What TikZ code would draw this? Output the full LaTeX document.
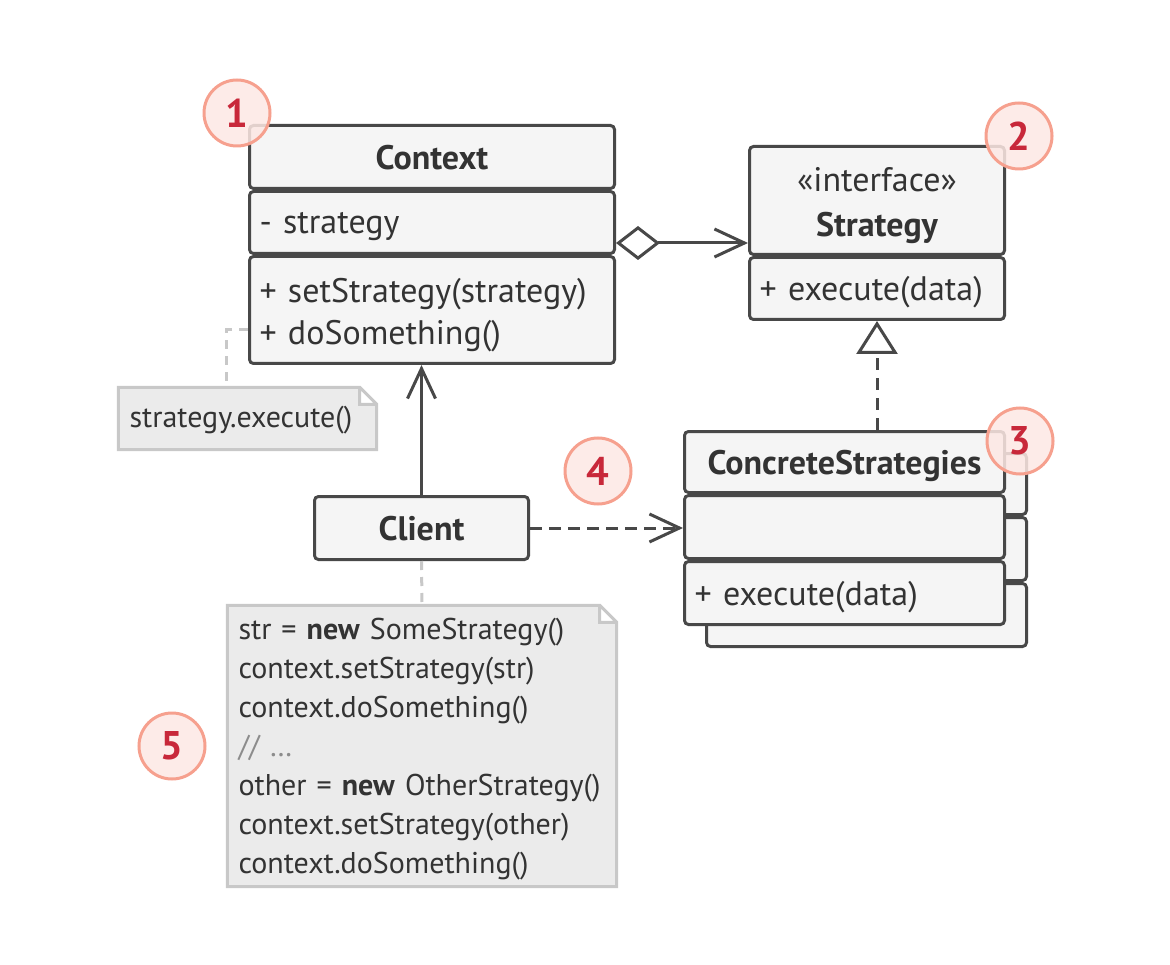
\documentclass[tikz,border=0pt]{standalone}
\usepackage{fontspec}
\setmainfont{PT Sans}
\usepackage{tikz}
\usetikzlibrary{arrows.meta, positioning, calc, backgrounds}
\definecolor{ink}{RGB}{72,72,72}
\definecolor{txt}{RGB}{51,51,51}
\definecolor{boxbg}{RGB}{245,245,245}
\definecolor{notebg}{RGB}{235,235,235}
\definecolor{noteln}{RGB}{200,200,200}
\definecolor{badgebg}{RGB}{253,232,228}
\definecolor{badgeln}{RGB}{246,160,142}
\definecolor{badgetx}{RGB}{200,40,58}
\tikzset{
  cmp/.style   ={rectangle, rounded corners=4pt, draw=ink, fill=boxbg, line width=3pt,
                 text=txt, font=\fontsize{34}{42}\selectfont, inner xsep=10pt, inner ysep=0pt},
  hdr/.style   ={cmp, align=center, text depth=-3pt, font=\fontsize{34}{42}\selectfont\bfseries},
  body/.style  ={cmp, align=left, text depth=-3pt},
  notebox/.style={inner xsep=11pt, inner ysep=0pt, align=left, text=txt,
                 font=\fontsize{30}{39}\selectfont},
  notepath/.style={fill=notebg, draw=noteln, line width=3pt, line join=miter},
  badge/.style ={circle, minimum size=66pt, inner sep=0pt, line width=3pt, draw=badgeln,
                 fill=badgebg, fill opacity=0.85, text opacity=1, text=badgetx,
                 font=\fontsize{40}{40}\selectfont\bfseries},
  tie/.style   ={draw=noteln, line width=3pt, dash pattern=on 9pt off 7pt},
  aggr/.style  ={draw=ink, line width=3pt,
                 {Diamond[open, length=44pt, width=34pt]}-{Straight Barb[length=30pt, width=28pt]}},
  usearr/.style={draw=ink, line width=3pt, -{Straight Barb[length=30pt, width=28pt]}},
  depn/.style  ={usearr, dash pattern=on 12pt off 7pt},
  realz/.style ={draw=ink, line width=3pt, dash pattern=on 12pt off 8pt,
                 -{Triangle[open, length=33pt, width=41pt]}},
}

\begin{document}
\begin{tikzpicture}[x=1pt, y=-1pt]
\useasboundingbox (0,0) rectangle (1170,965);
% Context
\node[hdr, text width=345pt, minimum height=63pt] (ctxh) at (432,157) {Context};
\node[body, text width=345pt, minimum height=62pt, below=0pt of ctxh] (ctxa) {- strategy};
\node[body, text width=345pt, minimum height=107pt, text depth=39pt, below=0pt of ctxa] (ctxm) {+ setStrategy(strategy)\\+ doSomething()};
% Strategy
\node[hdr, text width=235pt, minimum height=108pt, text depth=43pt] (strh) at (877,200.5) {{\mdseries «interface»}\\[3pt]Strategy};
\node[body, text width=235pt, minimum height=62pt, below=0pt of strh] (strm) {+ execute(data)};
% ConcreteStrategies (copy behind, then front)
\node[cmp, minimum width=320pt, minimum height=61pt] (csbh) at (866.5,484) {};
\node[cmp, minimum width=320pt, minimum height=63pt, below=0pt of csbh] (csbm) {};
\node[cmp, minimum width=320pt, minimum height=63pt, below=0pt of csbm] (csbb) {};
\node[hdr, text width=300pt, minimum height=61pt] (csh) at (844.5,462) {ConcreteStrategies};
\node[body, text width=300pt, minimum height=63pt, below=0pt of csh] (csm) {};
\node[body, text width=300pt, minimum height=63pt, below=0pt of csm] (csb) {+ execute(data)};
% Client
\node[hdr, text width=194pt, minimum height=63pt] (cli) at (421.5,528) {Client};
% notes
\node[notebox, text width=236pt, minimum height=62pt, text depth=3pt] (n1) at (247.5,418.5) {strategy.execute()};
\node[notebox, text width=367pt, minimum height=281pt, text depth=235pt] (n2) at (422,746) {str = \textbf{new} SomeStrategy()\\context.setStrategy(str)\\context.doSomething()\\\textcolor{black!45}{// …}\\other = \textbf{new} OtherStrategy()\\context.setStrategy(other)\\context.doSomething()};
\begin{scope}[on background layer]
\foreach \n in {n1,n2}
  \filldraw[notepath] (\n.south west) -- (\n.north west) -- ([xshift=-17pt]\n.north east)
    -- ([yshift=-17pt]\n.north east) -- (\n.south east) -- cycle
    ([xshift=-17pt]\n.north east) |- ([yshift=-17pt]\n.north east);
\end{scope}
% connectors
\coordinate (agg) at ([yshift=12pt]ctxa.south east);
\draw[aggr] (agg) -- (agg -| strh.west);
\draw[realz] (csh.north -| strm.south) -- (strm.south);
\draw[usearr] (cli.north) -- (cli.north |- ctxm.south);
\draw[depn] (cli.east) -- (cli.east -| csm.west);
\draw[tie] ([yshift=35pt]ctxm.south west) -| ([xshift=-21pt]n1.north);
\draw[tie] (cli.south) -- (n2.north);
% numbers
\node[badge] (b1) at (237,113) {1};
\node[badge] (b2) at (1019,136) {2};
\node[badge] (b3) at (1020,441) {3};
\node[badge] (b4) at (598,471) {4};
\node[badge] (b5) at (172,746) {5};
\end{tikzpicture}
\end{document}
